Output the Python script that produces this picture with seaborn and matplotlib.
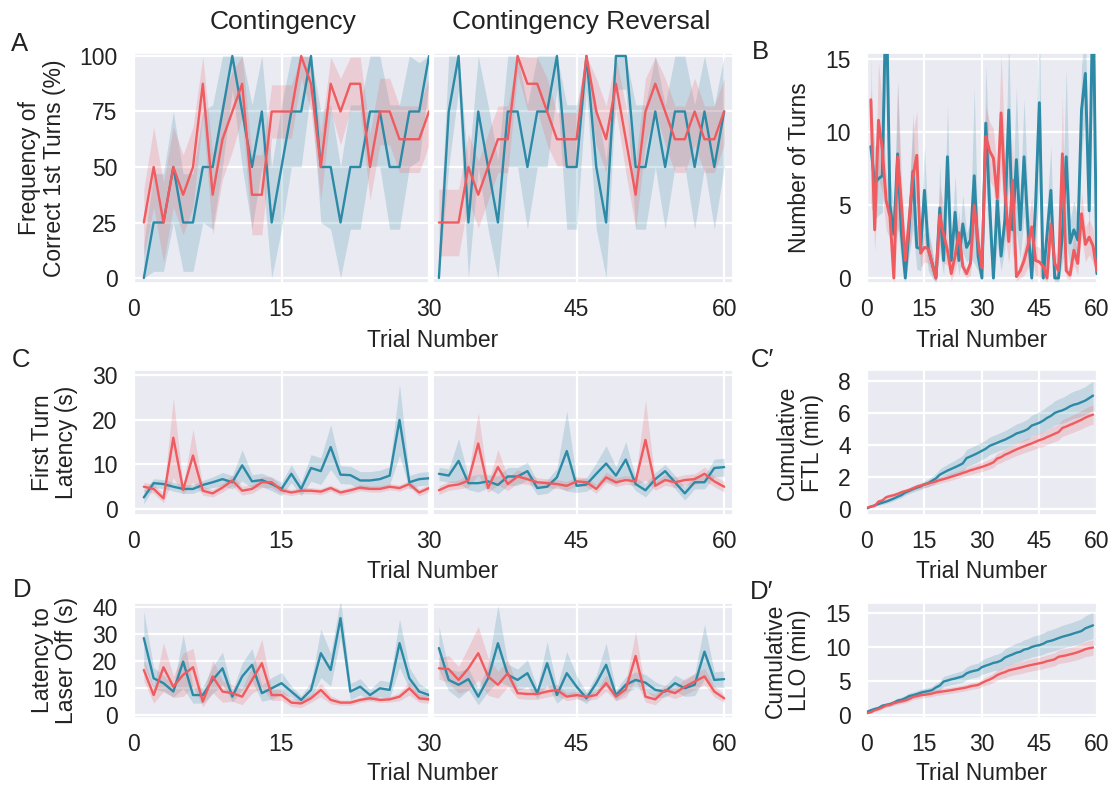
import numpy as np
import pandas as pd
import matplotlib
matplotlib.use("Agg")
import matplotlib.pyplot as plt
import seaborn as sns

# ---------------- data ----------------
trials = list(range(1, 61))
RED = "#EF5B5F"
TEAL = "#2C8AA6"

# A: frequency of correct 1st turns (%)
a_red = [25, 50, 25, 50, 37.5, 50, 87.5, 37.5, 62.5, 75, 87.5, 37.5, 37.5, 75, 75, 75, 100, 87.5, 50, 87.5,
         75, 87.5, 87.5, 50, 75, 75, 62.5, 62.5, 62.5, 75,
         25, 25, 25, 50, 37.5, 50, 62.5, 62.5, 100, 87.5, 87.5, 75, 62.5, 62.5, 62.5, 100, 75, 62.5, 87.5, 62.5,
         37.5, 75, 87.5, 75, 62.5, 62.5, 75, 62.5, 62.5, 75]
a_teal = [0, 25, 25, 50, 25, 25, 50, 50, 75, 100, 75, 50, 75, 25, 50, 75, 75, 100, 50, 50,
          25, 50, 50, 75, 75, 50, 50, 75, 75, 100,
          0, 75, 100, 25, 75, 50, 25, 75, 75, 50, 75, 75, 100, 50, 50, 100, 50, 25, 100, 100,
          50, 50, 75, 50, 75, 75, 50, 75, 50, 75]
a_red_ci = [15, 18, 18, 18, 18, 18, 15, 18, 18, 18, 15, 18, 18, 12, 12, 12, 10, 12, 15, 12,
            15, 12, 12, 15, 15, 15, 15, 15, 15, 15,
            15, 15, 15, 15, 15, 15, 15, 15, 8, 12, 12, 15, 12, 12, 12, 8, 15, 15, 12, 15,
            15, 15, 12, 15, 15, 15, 15, 15, 15, 15]
a_teal_ci = [15, 22, 22, 25, 22, 22, 25, 28, 25, 15, 25, 28, 25, 25, 28, 25, 25, 15, 25, 28,
             25, 28, 28, 25, 25, 28, 28, 25, 22, 12,
             12, 25, 15, 25, 25, 28, 28, 25, 25, 28, 25, 25, 15, 28, 28, 15, 28, 28, 15, 15,
             28, 28, 25, 28, 25, 25, 28, 25, 28, 25]

# B: number of turns
b_red = [12.2, 3.3, 10.8, 8.8, 5.3, 4.2, 0.0, 8.3, 5.0, 1.2, 4.0, 7.0, 8.4, 1.7, 2.1, 2.0, 1.0, 0.0, 4.3, 3.0,
         1.9, 0.3, 1.5, 3.1, 0.8, 0.3, 1.0, 5.0, 2.5, 0.7,
         9.7, 8.7, 8.2, 5.5, 11.3, 6.0, 2.5, 6.7, 0.1, 0.5, 1.2, 2.2, 3.5, 1.2, 1.1, 0.8, 0.0, 3.7, 1.0, 0.5,
         8.5, 0.5, 0.2, 1.9, 1.0, 4.4, 2.3, 2.8, 2.2, 0.5]
b_teal = [9.0, 6.5, 6.8, 7.0, 20.0, 5.0, 3.0, 8.5, 3.0, 0.0, 3.5, 7.3, 2.1, 2.0, 6.0, 2.0, 1.0, 0.0, 4.8, 1.2,
          8.3, 1.2, 4.5, 1.2, 3.7, 2.1, 2.6, 7.0, 1.5, 0.0,
          10.6, 5.0, 0.0, 5.3, 1.5, 4.0, 11.5, 3.3, 8.1, 3.3, 8.3, 3.5, 0.0, 5.0, 12.0, 0.0, 3.0, 6.0, 0.0, 0.0,
          3.0, 8.3, 2.4, 3.3, 2.6, 11.5, 14.0, 4.6, 20.0, 0.3]
b_red_ci = [3, 1.5, 4, 3, 2, 1.5, 0.5, 5, 2, 1, 2, 3, 3, 1, 1, 1, 0.8, 0.3, 2, 2,
            1, 0.5, 1, 1.5, 0.5, 0.3, 0.8, 2, 1.5, 0.5,
            2, 2, 2, 2, 4, 3, 1.5, 3, 0.3, 0.5, 1, 1.5, 2, 1, 1, 0.8, 0.3, 1.5, 1, 0.5,
            4, 0.5, 0.3, 1, 0.8, 1.5, 1.2, 1.2, 1.2, 0.5]
b_teal_ci = [4, 2.5, 2.5, 2.5, 6, 2, 1.5, 5, 2, 0.3, 2, 4, 1.5, 1.5, 3, 1.5, 1, 0.3, 3, 1,
             3.5, 1, 2.5, 1, 2, 1, 1.2, 6, 1, 0.3,
             4, 3, 0.3, 3, 1, 2, 5, 2, 5, 2, 4, 2, 0.3, 3, 6, 0.3, 2, 3, 0.3, 0.3,
             2, 6, 1.5, 2, 1.5, 3, 3, 2, 4, 0.5]

# C: first turn latency (s)
c_red = [5.0, 4.5, 2.4, 16.0, 4.3, 12.0, 4.1, 3.5, 4.8, 6.4, 4.1, 4.5, 6.0, 6.0, 4.2, 3.7, 4.1, 4.1, 3.9, 4.7,
         3.7, 4.2, 4.8, 4.5, 4.5, 5.0, 4.7, 5.6, 3.7, 4.7,
         4.2, 5.2, 5.5, 6.4, 14.7, 4.7, 9.4, 5.6, 7.3, 6.7, 6.0, 5.8, 5.6, 5.2, 6.2, 6.0, 4.5, 7.1, 6.0, 6.5,
         6.2, 15.5, 5.2, 6.5, 6.0, 6.5, 6.7, 7.9, 6.2, 5.0]
c_teal = [2.6, 5.8, 5.6, 5.0, 4.5, 4.5, 5.4, 6.0, 6.7, 6.0, 9.8, 6.2, 6.5, 5.6, 4.5, 7.9, 4.5, 9.2, 8.5, 13.9,
          7.7, 7.6, 6.4, 6.4, 6.7, 7.5, 20.0, 6.0, 6.7, 6.9,
          7.9, 7.5, 10.8, 5.8, 5.8, 6.2, 5.4, 7.3, 7.3, 8.5, 4.7, 5.0, 7.1, 13.0, 5.2, 5.5, 7.9, 10.2, 7.5, 11.1,
          5.6, 4.2, 6.7, 8.5, 6.0, 3.5, 6.0, 6.0, 9.2, 9.4]
c_red_ci = [1, 1, 1, 9, 1, 6, 1, 0.8, 1, 1.2, 1, 1, 1.2, 1.2, 0.8, 0.7, 0.7, 0.7, 0.7, 0.7,
            0.7, 0.7, 0.7, 0.7, 0.7, 0.7, 0.7, 0.8, 0.8, 0.8,
            1, 1, 1, 1.5, 7, 1, 4, 1.5, 1.5, 1.2, 1, 1, 1, 1, 1, 1, 1, 1.2, 1, 1,
            1, 9, 1, 1.2, 1.2, 1.2, 1.2, 1.5, 1.2, 1.2]
c_teal_ci = [1.5, 1, 1, 1, 1, 1, 1, 1.2, 1.5, 1.5, 3.5, 1.5, 1.5, 1.5, 1.5, 2, 1.5, 3, 3, 5,
             2, 2, 2, 2, 2, 2, 8, 1.5, 1.5, 1.5,
             1.5, 1.5, 5, 1.5, 2, 1.5, 2, 2, 2, 2, 1.5, 1.5, 2, 9, 1.5, 1.5, 2.5, 4, 2, 4,
             1.5, 1.5, 1.5, 1.5, 1.5, 1.5, 1.5, 1.5, 2, 2]

# D: latency to laser off (s)
d_red = [16.7, 7.4, 17.7, 10.5, 14.9, 17.7, 5.0, 14.3, 8.7, 8.1, 6.8, 13.0, 19.2, 7.4, 7.4, 4.6, 4.3, 6.2, 9.3, 5.6,
         4.6, 4.6, 5.6, 6.2, 5.6, 5.8, 6.8, 9.9, 6.2, 5.8,
         17.3, 17.0, 13.0, 17.3, 22.9, 14.3, 11.2, 15.5, 8.1, 7.8, 7.8, 8.7, 9.3, 6.8, 7.4, 6.8, 7.4, 11.8, 6.8, 9.5,
         21.9, 6.8, 5.8, 9.3, 8.1, 10.5, 12.4, 14.3, 8.7, 6.2]
d_teal = [28.5, 13.6, 11.8, 8.7, 19.8, 7.4, 7.4, 13.0, 17.3, 6.8, 14.3, 18.6, 8.1, 9.9, 11.8, 8.7, 5.6, 9.3, 22.9, 16.7,
          35.9, 8.7, 10.5, 7.4, 9.9, 9.3, 26.6, 13.6, 8.7, 7.4,
          24.8, 13.0, 11.2, 13.3, 6.8, 13.6, 26.6, 14.9, 13.0, 15.5, 8.1, 19.2, 7.4, 15.5, 10.5, 6.2, 11.8, 18.6, 7.4, 11.2,
          13.0, 12.0, 9.3, 8.7, 11.8, 9.9, 11.2, 23.5, 13.0, 13.3]
d_red_ci = [4, 3, 9, 4, 8, 7, 2, 6, 4, 3, 3, 5, 9, 2, 2, 1.5, 1.5, 1.5, 2.5, 1.5,
            1, 1, 1, 1, 1, 1, 1.5, 2.5, 1.5, 1.5,
            4, 5, 5, 8, 10, 7, 5, 5, 2, 2, 2, 2, 2, 1.5, 1.5, 1.5, 1.5, 3, 1.5, 3,
            9, 2, 2, 2, 2, 3, 3, 3, 2, 1.5]
d_teal_ci = [10, 4, 3, 2, 10, 3, 3, 5, 6, 2, 5, 6, 3, 4, 4, 2, 1.5, 3, 9, 6,
             7, 3, 3, 2, 3, 3, 9, 4, 3, 2,
             8, 4, 5, 4, 3, 5, 14, 4, 4, 5, 2, 8, 3, 8, 4, 2, 3, 8, 2, 3,
             3, 3, 3, 2, 3, 3, 4, 10, 3, 3]

# C' / D' confidence half-widths of the cumulative curves (min)
cftl_red_ci = [0.03, 0.05, 0.08, 0.12, 0.12, 0.15, 0.15, 0.15, 0.15, 0.15, 0.15, 0.15, 0.16, 0.17, 0.17,
               0.18, 0.18, 0.19, 0.19, 0.2, 0.2, 0.21, 0.22, 0.22, 0.23, 0.24, 0.25, 0.26, 0.27, 0.28,
               0.29, 0.3, 0.31, 0.32, 0.34, 0.35, 0.36, 0.37, 0.38, 0.39, 0.4, 0.41, 0.42, 0.43, 0.44,
               0.45, 0.46, 0.47, 0.48, 0.49, 0.5, 0.52, 0.53, 0.54, 0.55, 0.56, 0.57, 0.58, 0.59, 0.6]
cftl_teal_ci = [0.03, 0.05, 0.07, 0.09, 0.11, 0.12, 0.13, 0.14, 0.15, 0.16, 0.17, 0.18, 0.19, 0.2, 0.2,
                0.22, 0.25, 0.28, 0.3, 0.35, 0.38, 0.4, 0.42, 0.45, 0.48, 0.5, 0.55, 0.55, 0.55, 0.55,
                0.55, 0.55, 0.55, 0.55, 0.55, 0.56, 0.57, 0.58, 0.6, 0.6, 0.6, 0.62, 0.64, 0.65, 0.66,
                0.68, 0.7, 0.72, 0.74, 0.76, 0.78, 0.8, 0.82, 0.84, 0.85, 0.86, 0.87, 0.88, 0.9, 0.9]
llo_red_ci = [0.1, 0.12, 0.18, 0.2, 0.25, 0.3, 0.3, 0.32, 0.34, 0.35, 0.36, 0.38, 0.42, 0.43, 0.44,
              0.44, 0.44, 0.45, 0.46, 0.46, 0.46, 0.46, 0.47, 0.47, 0.47, 0.47, 0.48, 0.5, 0.5, 0.5,
              0.55, 0.6, 0.65, 0.7, 0.75, 0.8, 0.82, 0.85, 0.86, 0.87, 0.88, 0.89, 0.9, 0.9, 0.91,
              0.92, 0.93, 0.95, 0.96, 0.97, 1.0, 1.02, 1.03, 1.05, 1.06, 1.08, 1.1, 1.12, 1.14, 1.15]
llo_teal_ci = [0.15, 0.2, 0.22, 0.24, 0.3, 0.3, 0.32, 0.35, 0.38, 0.4, 0.42, 0.45, 0.46, 0.48, 0.5,
               0.5, 0.5, 0.52, 0.6, 0.65, 0.75, 0.78, 0.8, 0.82, 0.84, 0.86, 0.95, 0.98, 1.0, 1.0,
               1.05, 1.1, 1.12, 1.15, 1.18, 1.2, 1.3, 1.35, 1.38, 1.4, 1.42, 1.45, 1.48, 1.5, 1.52,
               1.54, 1.56, 1.6, 1.62, 1.64, 1.66, 1.68, 1.7, 1.72, 1.74, 1.76, 1.78, 1.85, 1.9, 1.95]

x_ticks_left = [0, 15, 30]
x_ticks_right = [45, 60]
x_ticks_full = [0, 15, 30, 45, 60]

# ---------------- style ----------------
sns.set_theme(style="darkgrid")
plt.rcParams['font.family'] = ['Liberation Sans', 'DejaVu Sans']
FS = 16.5       # ticks and axis labels
FS_TITLE = 19
FS_LETTER = 18.5
plt.rcParams['grid.linewidth'] = 1.6

W, H = 1118, 787
fig = plt.figure(figsize=(W / 100, H / 100), dpi=100)


def rect(x0, y0, x1, y1):
    return [x0 / W, 1 - y1 / H, (x1 - x0) / W, (y1 - y0) / H]


def draw(ax, x, red, teal, red_ci, teal_ci, clip=None, lw=1.7):
    x = np.asarray(x, float)
    for vals, ci, col in ((teal, teal_ci, TEAL), (red, red_ci, RED)):
        v = np.asarray(vals, float)
        c = np.asarray(ci, float)
        lo, hi = v - c, v + c
        if clip is not None:
            lo, hi = np.clip(lo, *clip), np.clip(hi, *clip)
        ax.fill_between(x, lo, hi, color=col, alpha=0.2, linewidth=0)
    n = len(x)
    df = pd.DataFrame({"Trial": np.concatenate([x, x]),
                       "Value": np.concatenate([np.asarray(teal, float), np.asarray(red, float)]),
                       "Group": ["Laser"] * n + ["Control"] * n})
    sns.lineplot(data=df, x="Trial", y="Value", hue="Group",
                 palette={"Laser": TEAL, "Control": RED}, hue_order=["Laser", "Control"],
                 ax=ax, legend=False, errorbar=None, linewidth=lw)
    ax.set_xlabel("")
    ax.set_ylabel("")
    ax.tick_params(length=0, labelsize=FS, pad=11, colors="#222222")


def split_row(y0, y1, red, teal, red_ci, teal_ci, ylim, yticks, clip=None):
    axl = fig.add_axes(rect(133, y0, 430, y1))
    axr = fig.add_axes(rect(433, y0, 733, y1))
    draw(axl, trials[:30], red[:30], teal[:30], red_ci[:30], teal_ci[:30], clip)
    draw(axr, trials[30:], red[30:], teal[30:], red_ci[30:], teal_ci[30:], clip)
    axl.set_xlim(-0.1, 30.1)
    axr.set_xlim(30.4, 60.9)
    axl.set_xticks(x_ticks_left)
    axr.set_xticks(x_ticks_right)
    for a in (axl, axr):
        a.set_ylim(*ylim)
        a.set_yticks(yticks)
    axr.set_yticklabels([])
    return axl, axr


def right_panel(y0, y1, x, red, teal, red_ci, teal_ci, ylim, yticks, lw=1.7):
    ax = fig.add_axes(rect(866, y0, 1098, y1))
    draw(ax, x, red, teal, red_ci, teal_ci, lw=lw)
    ax.set_xlim(-0.26, 60.3)
    ax.set_xticks(x_ticks_full)
    ax.set_ylim(*ylim)
    ax.set_yticks(yticks)
    return ax


def ylab(ax, s):
    ax.set_ylabel(s, fontsize=FS, labelpad=10, linespacing=1.1, color="#222222")


# Row A / B
axA, _ = split_row(53, 283, a_red, a_teal, a_red_ci, a_teal_ci, (-2.25, 101.35), [0, 25, 50, 75, 100], clip=(0, 100))
ylab(axA, "Frequency of\nCorrect 1st Turns (%)")
axB = right_panel(53, 283, trials, b_red, b_teal, b_red_ci, b_teal_ci, (-0.34, 15.4), [0, 5, 10, 15], lw=2.1)
ylab(axB, "Number of Turns")

# Row C / C'
axC, _ = split_row(370, 515, c_red, c_teal, c_red_ci, c_teal_ci, (-1.35, 31.2), [0, 10, 20, 30])
ylab(axC, "First Turn\nLatency (s)")
x_cum = [t - 1 for t in trials]
cftl_red = np.cumsum(c_red) / 60.0
cftl_teal = np.cumsum(c_teal) / 60.0
axCp = right_panel(370, 515, x_cum, cftl_red, cftl_teal, cftl_red_ci, cftl_teal_ci, (-0.375, 8.69), [0, 2, 4, 6, 8])
ylab(axCp, "Cumulative\nFTL (min)")

# Row D / D'
axD, _ = split_row(603, 718, d_red, d_teal, d_red_ci, d_teal_ci, (-1.1, 41.5), [0, 10, 20, 30, 40])
ylab(axD, "Latency to\nLaser Off (s)")
llo_red = np.cumsum(d_red) / 60.0
llo_teal = np.cumsum(d_teal) / 60.0
axDp = right_panel(603, 718, x_cum, llo_red, llo_teal, llo_red_ci, llo_teal_ci, (-0.44, 16.5), [0, 5, 10, 15])
ylab(axDp, "Cumulative\nLLO (min)")


# texts
def ftext(x, y, s, fs=FS):
    fig.text(x / W, 1 - y / H, s, fontsize=fs, ha="center", va="center", color="#222222")


ftext(283, 22, "Contingency", FS_TITLE)
ftext(581, 22, "Contingency Reversal", FS_TITLE)
for xx in (433, 982):
    for yy in (340, 572, 773):
        ftext(xx, yy, "Trial Number")
ftext(20, 44, "A", FS_LETTER)
ftext(760, 52, "B", FS_LETTER)
ftext(21, 360, "C", FS_LETTER)
ftext(762, 360, "C\u2032", FS_LETTER)
ftext(22, 590, "D", FS_LETTER)
ftext(762, 592, "D\u2032", FS_LETTER)

fig.savefig("out.png", dpi=100)
